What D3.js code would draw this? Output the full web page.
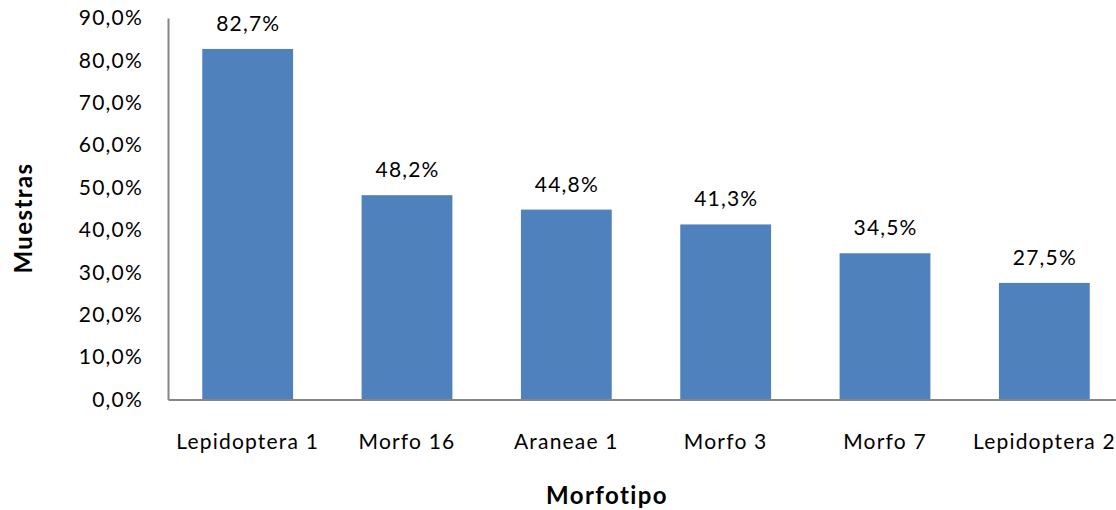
<!DOCTYPE html>
<html>
<head>
<meta charset="utf-8">
<script src="https://cdn.jsdelivr.net/npm/d3@7"></script>
<style>
  html, body { margin: 0; padding: 0; background: #ffffff; }
  svg text { font-family: "Lato", "Open Sans", sans-serif; fill: #000; }
</style>
</head>
<body>
<svg id="chart" width="1116" height="510"></svg>
<script>
// Share of samples per morphotype
const categories = ["Lepidoptera 1", "Morfo 16", "Araneae 1", "Morfo 3", "Morfo 7", "Lepidoptera 2"];
const values = [82.7, 48.2, 44.8, 41.3, 34.5, 27.5];
const yTicks = [0, 10, 20, 30, 40, 50, 60, 70, 80, 90];

const fmt = v => v.toFixed(1).replace(".", ",") + "%";

const labelSize = 21, labelSpacing = 1.2;
const titleSize = 24, titleSpacing = 1.4;

const svg = d3.select("#chart");
const plotLeft = 168, plotTop = 18, plotBottom = 399.5, plotRight = 1124;

const x = d3.scaleBand()
  .domain(categories)
  .range([plotLeft, plotRight])
  .paddingInner(0.43)
  .paddingOuter(0.215);

const y = d3.scaleLinear().domain([0, 90]).range([plotBottom, plotTop]);

// Bars
svg.append("g")
  .selectAll("rect")
  .data(values)
  .join("rect")
  .attr("x", (d, i) => x(categories[i]))
  .attr("y", d => y(d))
  .attr("width", x.bandwidth())
  .attr("height", d => y(0) - y(d))
  .attr("fill", "#4F81BD");

// Value labels above bars
svg.append("g")
  .selectAll("text")
  .data(values)
  .join("text")
  .attr("x", (d, i) => x(categories[i]) + x.bandwidth() / 2 + labelSpacing / 2)
  .attr("y", d => y(d) - 18)
  .attr("text-anchor", "middle")
  .attr("font-size", labelSize)
  .attr("letter-spacing", labelSpacing)
  .text(d => fmt(d));

// Y axis
const yAxis = svg.append("g")
  .attr("transform", `translate(${plotLeft},0)`)
  .call(d3.axisLeft(y).tickValues(yTicks).tickFormat(fmt).tickSize(0).tickPadding(25));
yAxis.select(".domain").attr("stroke", "#868686").attr("stroke-width", 2);
yAxis.selectAll("text")
  .attr("font-size", labelSize)
  .attr("letter-spacing", labelSpacing)
  .attr("font-family", "Lato, sans-serif");

// X axis
const xAxis = svg.append("g")
  .attr("transform", `translate(0,${plotBottom})`)
  .call(d3.axisBottom(x).tickSize(0).tickPadding(34.5));
xAxis.select(".domain").attr("stroke", "#868686").attr("stroke-width", 2);
xAxis.selectAll("text")
  .attr("font-size", labelSize)
  .attr("letter-spacing", labelSpacing)
  .attr("font-family", "Lato, sans-serif");

// Axis titles
svg.append("text")
  .attr("x", 607)
  .attr("y", 504)
  .attr("text-anchor", "middle")
  .attr("font-size", titleSize)
  .attr("letter-spacing", titleSpacing)
  .attr("font-weight", "bold")
  .text("Morfotipo");

svg.append("text")
  .attr("transform", "translate(32,218) rotate(-90)")
  .attr("text-anchor", "middle")
  .attr("font-size", titleSize)
  .attr("letter-spacing", titleSpacing)
  .attr("font-weight", "bold")
  .text("Muestras");
</script>
</body>
</html>
